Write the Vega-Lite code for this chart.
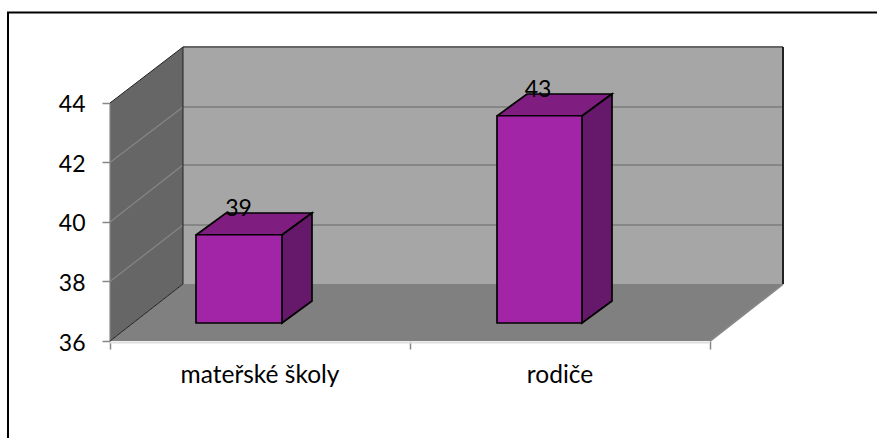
{
"$schema":"https://vega.github.io/schema/vega-lite/v6.json",
"width":673,"height":294,
"autosize":"none",
"padding":{"left":110,"top":47,"right":94,"bottom":97},
"background":"white",
"config":{"view":{"stroke":null},"font":"Lato"},
"datasets":{
"bars":[
{"category":"mateřské školy","value":39,"base":36,"x0":0.2867,"x1":0.5733,"labelX":0.4283,"nameX":0.5},
{"category":"rodiče","value":43,"base":36,"x0":1.29,"x1":1.5733,"labelX":1.4267,"nameX":1.5}],
"walls":[
{"face":"a back","i":1,"x":0.2433,"y":45.882},{"face":"a back","i":2,"x":2.2433,"y":45.882},{"face":"a back","i":3,"x":2.2433,"y":37.916},{"face":"a back","i":4,"x":0.2433,"y":37.916},
{"face":"b left","i":1,"x":0,"y":44},{"face":"b left","i":2,"x":0.2433,"y":45.882},{"face":"b left","i":3,"x":0.2433,"y":37.916},{"face":"b left","i":4,"x":0,"y":36},
{"face":"c floor","i":1,"x":0,"y":36},{"face":"c floor","i":2,"x":0.2433,"y":37.916},{"face":"c floor","i":3,"x":2.2433,"y":37.916},{"face":"c floor","i":4,"x":2,"y":36}],
"floorShadow":[{"i":1,"x":0,"y":35.95},{"i":2,"x":2,"y":35.95}],
"gridSide":[
{"tick":38,"i":1,"x":0,"y":38},{"tick":38,"i":2,"x":0.2433,"y":39.899},
{"tick":40,"i":1,"x":0,"y":40},{"tick":40,"i":2,"x":0.2433,"y":41.916},
{"tick":42,"i":1,"x":0,"y":42},{"tick":42,"i":2,"x":0.2433,"y":43.866},
{"tick":45,"i":1,"x":0,"y":36},{"tick":45,"i":2,"x":0,"y":44}],
"gridBack":[
{"tick":38,"i":1,"x":0.2433,"y":39.899},{"tick":38,"i":2,"x":2.2433,"y":39.899},
{"tick":40,"i":1,"x":0.2433,"y":41.916},{"tick":40,"i":2,"x":2.2433,"y":41.916},
{"tick":42,"i":1,"x":0.2433,"y":43.866},{"tick":42,"i":2,"x":2.2433,"y":43.866},
{"tick":46,"i":1,"x":2,"y":36},{"tick":46,"i":2,"x":2.2433,"y":37.916}],
"topEdge":[{"i":1,"x":0.2433,"y":45.882},{"i":2,"x":2.2433,"y":45.882}],
"darkEdges":[
{"edge":"a","i":1,"x":0,"y":44},{"edge":"a","i":2,"x":0.2433,"y":45.882},{"edge":"a","i":3,"x":0.2433,"y":37.916},{"edge":"a","i":4,"x":0,"y":36}],
"rightEdge":[{"i":1,"x":2.2433,"y":45.882},{"i":2,"x":2.2433,"y":37.916}],
"barFaces":[
{"face":"top1","color":"top","i":1,"x":0.2867,"y":39.563},{"face":"top1","color":"top","i":2,"x":0.3867,"y":40.303},{"face":"top1","color":"top","i":3,"x":0.6733,"y":40.303},{"face":"top1","color":"top","i":4,"x":0.5733,"y":39.563},{"face":"top1","color":"top","i":5,"x":0.2867,"y":39.563},
{"face":"side1","color":"side","i":1,"x":0.5733,"y":39.563},{"face":"side1","color":"side","i":2,"x":0.6733,"y":40.303},{"face":"side1","color":"side","i":3,"x":0.6733,"y":37.345},{"face":"side1","color":"side","i":4,"x":0.5733,"y":36.605},{"face":"side1","color":"side","i":5,"x":0.5733,"y":39.563},
{"face":"top2","color":"top","i":1,"x":1.29,"y":43.563},{"face":"top2","color":"top","i":2,"x":1.39,"y":44.303},{"face":"top2","color":"top","i":3,"x":1.6733,"y":44.303},{"face":"top2","color":"top","i":4,"x":1.5733,"y":43.563},{"face":"top2","color":"top","i":5,"x":1.29,"y":43.563},
{"face":"side2","color":"side","i":1,"x":1.5733,"y":43.563},{"face":"side2","color":"side","i":2,"x":1.6733,"y":44.303},{"face":"side2","color":"side","i":3,"x":1.6733,"y":37.345},{"face":"side2","color":"side","i":4,"x":1.5733,"y":36.605},{"face":"side2","color":"side","i":5,"x":1.5733,"y":43.563}],
"frame":[{"i":1,"x":-0.34,"y":32.5},{"i":2,"x":-0.34,"y":47.04},{"i":3,"x":2.56,"y":47.04}]
},
"layer":[
{"data":{"name":"frame"},"mark":{"type":"line","stroke":"black","strokeWidth":2,"clip":false},
 "encoding":{"x":{"field":"x","type":"quantitative","scale":{"domain":[0,2.2433],"nice":false,"zero":false},
   "axis":{"values":[0,1,2],"labels":false,"title":null,"grid":false,"domain":false,"tickColor":"#868686","tickSize":8,"tickWidth":1.5}},
  "y":{"field":"y","type":"quantitative","scale":{"domain":[36,45.882],"nice":false,"zero":false},
   "axis":{"values":[36,38,40,42,44],"title":null,"grid":false,"domain":false,"tickColor":"#868686","tickSize":8,"tickWidth":1.5,"labelFont":"Lato","labelFontSize":23,"labelColor":"black","labelPadding":17,"labelOffset":2,"labelFlush":false}},
  "order":{"field":"i"}}},
{"data":{"name":"floorShadow"},"mark":{"type":"line","stroke":"#dedede","strokeWidth":2},"encoding":{"x":{"field":"x","type":"quantitative"},"y":{"field":"y","type":"quantitative"},"order":{"field":"i"}}},
{"data":{"name":"walls"},"transform":[{"filter":"datum.face==='a back'"}],"mark":{"type":"line","fill":"#a6a6a6","stroke":null},"encoding":{"x":{"field":"x","type":"quantitative"},"y":{"field":"y","type":"quantitative"},"order":{"field":"i"}}},
{"data":{"name":"walls"},"transform":[{"filter":"datum.face==='b left'"}],"mark":{"type":"line","fill":"#666666","stroke":null},"encoding":{"x":{"field":"x","type":"quantitative"},"y":{"field":"y","type":"quantitative"},"order":{"field":"i"}}},
{"data":{"name":"walls"},"transform":[{"filter":"datum.face==='c floor'"}],"mark":{"type":"line","fill":"#808080","stroke":null},"encoding":{"x":{"field":"x","type":"quantitative"},"y":{"field":"y","type":"quantitative"},"order":{"field":"i"}}},
{"data":{"name":"gridSide"},"mark":{"type":"line","stroke":"#868686","strokeWidth":1.2},"encoding":{"x":{"field":"x","type":"quantitative"},"y":{"field":"y","type":"quantitative"},"detail":{"field":"tick"},"order":{"field":"i"}}},
{"data":{"name":"gridBack"},"mark":{"type":"line","stroke":"#868686","strokeWidth":2},"encoding":{"x":{"field":"x","type":"quantitative"},"y":{"field":"y","type":"quantitative"},"detail":{"field":"tick"},"order":{"field":"i"}}},
{"data":{"name":"topEdge"},"mark":{"type":"line","stroke":"#666666","strokeWidth":2},"encoding":{"x":{"field":"x","type":"quantitative"},"y":{"field":"y","type":"quantitative"},"order":{"field":"i"}}},
{"data":{"name":"darkEdges"},"mark":{"type":"line","stroke":"#222222","strokeWidth":1},"encoding":{"x":{"field":"x","type":"quantitative"},"y":{"field":"y","type":"quantitative"},"detail":{"field":"edge"},"order":{"field":"i"}}},
{"data":{"name":"rightEdge"},"mark":{"type":"line","stroke":"#222222","strokeWidth":2},"encoding":{"x":{"field":"x","type":"quantitative"},"y":{"field":"y","type":"quantitative"},"order":{"field":"i"}}},
{"data":{"name":"barFaces"},"transform":[{"filter":"datum.color==='top'"}],"mark":{"type":"line","fill":"#7f1d80","stroke":"black","strokeWidth":1.7},"encoding":{"x":{"field":"x","type":"quantitative"},"y":{"field":"y","type":"quantitative"},"detail":{"field":"face"},"order":{"field":"i"}}},
{"data":{"name":"barFaces"},"transform":[{"filter":"datum.color==='side'"}],"mark":{"type":"line","fill":"#66186a","stroke":"black","strokeWidth":1.7},"encoding":{"x":{"field":"x","type":"quantitative"},"y":{"field":"y","type":"quantitative"},"detail":{"field":"face"},"order":{"field":"i"}}},
{"data":{"name":"bars"},"mark":{"type":"rect","fill":"#a125a6","stroke":"black","strokeWidth":1.7,"yOffset":-17,"y2Offset":-18},"encoding":{"x":{"field":"x0","type":"quantitative"},"x2":{"field":"x1"},"y":{"field":"value","type":"quantitative"},"y2":{"field":"base"}}},
{"data":{"name":"bars"},"mark":{"type":"text","font":"Lato","fontSize":23,"color":"black","dy":-43,"align":"center","baseline":"middle"},"encoding":{"x":{"field":"labelX","type":"quantitative"},"y":{"field":"value","type":"quantitative"},"text":{"field":"value","type":"quantitative"}}},
{"data":{"name":"bars"},"mark":{"type":"text","font":"Lato","fontSize":24.5,"color":"black","dy":42,"align":"center","baseline":"alphabetic"},"encoding":{"x":{"field":"nameX","type":"quantitative"},"y":{"field":"base","type":"quantitative"},"text":{"field":"category"}}}
]
}
